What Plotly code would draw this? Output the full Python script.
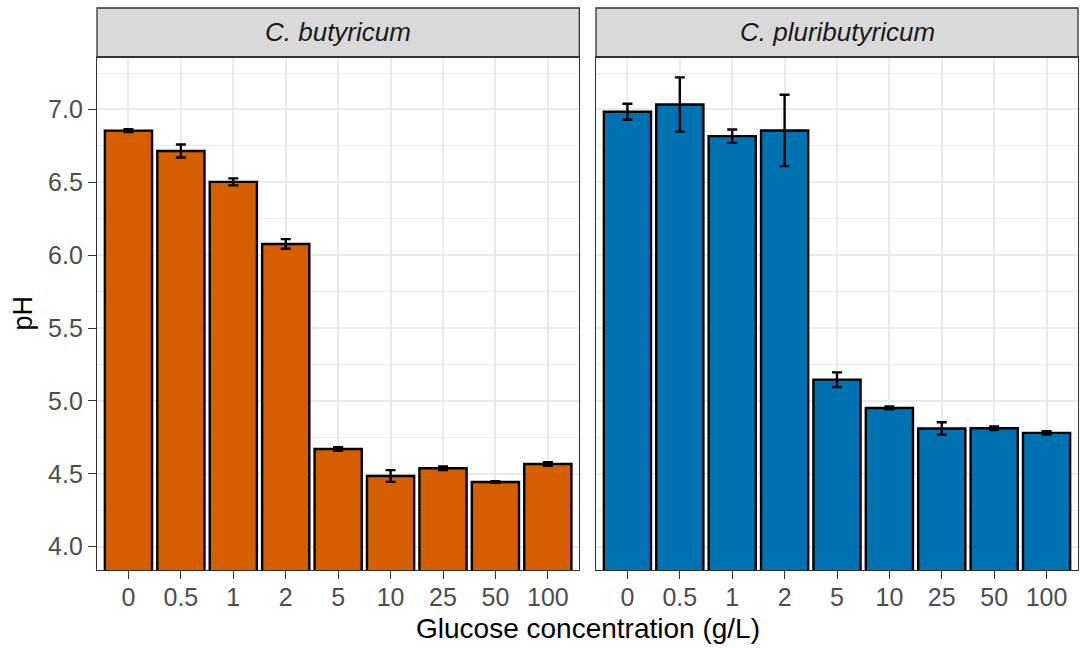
import plotly.graph_objects as go

# Glucose concentration levels (g/L)
glucose = ["0", "0.5", "1", "2", "5", "10", "25", "50", "100"]

# Final pH, mean and standard error, per strain
ph_butyricum = [6.855, 6.715, 6.503, 6.077, 4.670, 4.485, 4.538, 4.444, 4.567]
se_butyricum = [0.010, 0.045, 0.024, 0.033, 0.012, 0.040, 0.012, 0.006, 0.012]

ph_pluributyricum = [6.984, 7.034, 6.817, 6.856, 5.146, 4.952, 4.811, 4.813, 4.781]
se_pluributyricum = [0.055, 0.186, 0.046, 0.245, 0.050, 0.010, 0.043, 0.012, 0.012]

strains = ["C. butyricum", "C. pluributyricum"]
colors = ["#D55E00", "#0072B2"]

FONT = "Liberation Sans, Arial, Helvetica, sans-serif"
GRID = "#EBEBEB"
FRAME = "#333333"

W, H = 1080, 648
ML, MR, MT, MB = 97, 2, 57, 78
plot_w = W - ML - MR
plot_h = H - MT - MB
gap = (596 - 579.3) / plot_w
left_end = (579.3 - ML) / plot_w

fig = go.Figure()

series = [(ph_butyricum, se_butyricum), (ph_pluributyricum, se_pluributyricum)]
for i, ((vals, errs), col) in enumerate(zip(series, colors)):
    fig.add_trace(go.Bar(
        x=glucose, y=vals,
        width=0.9,
        marker=dict(color=col, line=dict(color="black", width=2.4)),
        error_y=dict(type="data", array=errs, visible=True,
                     color="black", thickness=2.4, width=5),
        xaxis="x" if i == 0 else "x2",
        yaxis="y" if i == 0 else "y2",
        showlegend=False,
    ))

yrange = [3.84, 7.36]
yticks = [4.0, 4.5, 5.0, 5.5, 6.0, 6.5, 7.0]

common_x = dict(
    type="category", categoryorder="array", categoryarray=glucose,
    range=[-0.6, 8.6],
    showgrid=True, gridcolor=GRID, gridwidth=2,
    ticks="outside", ticklen=8, tickwidth=1.2, tickcolor=FRAME,
    ticklabelstandoff=-3,
    tickfont=dict(family=FONT, size=25, color="#4D4D4D"),
    showline=True, mirror=True, linecolor=FRAME, linewidth=1.3,
    zeroline=False, fixedrange=True,
)
common_y = dict(
    range=yrange, tickvals=yticks,
    ticktext=[f"{v:.1f}" for v in yticks],
    showgrid=True, gridcolor=GRID, gridwidth=2,
    minor=dict(tickvals=[3.75 + 0.5 * k for k in range(8)],
               showgrid=True, gridcolor=GRID, gridwidth=1, ticks=""),
    showline=True, mirror=True, linecolor=FRAME, linewidth=1.3,
    zeroline=False, fixedrange=True,
)

fig.update_layout(
    width=W, height=H,
    margin=dict(l=ML, r=MR, t=MT, b=MB),
    paper_bgcolor="white", plot_bgcolor="white",
    bargap=0.1,
    xaxis=dict(domain=[0, left_end], anchor="y", **common_x),
    xaxis2=dict(domain=[left_end + gap, 1], anchor="y2", **common_x),
    yaxis=dict(domain=[0, 1], anchor="x",
               ticks="outside", ticklen=8, tickwidth=1.2, tickcolor=FRAME,
               tickfont=dict(family=FONT, size=25, color="#4D4D4D"),
               **common_y),
    yaxis2=dict(domain=[0, 1], anchor="x2", showticklabels=False, ticks="",
                **common_y),
    font=dict(family=FONT),
)

# Facet strips
strip_top = 1 + (MT - 8) / plot_h
for xref, yref, name in [("x domain", "y domain", strains[0]),
                         ("x2 domain", "y2 domain", strains[1])]:
    fig.add_shape(type="rect", xref=xref, yref=yref,
                  x0=0, x1=1, y0=1, y1=strip_top,
                  fillcolor="#D9D9D9", line=dict(color=FRAME, width=1.3),
                  layer="above")
    fig.add_shape(type="line", xref=xref, yref=yref,
                  x0=0, x1=1, y0=1, y1=1,
                  line=dict(color=FRAME, width=2.2), layer="above")
    fig.add_annotation(xref=xref, yref=yref, x=0.5, y=(1 + strip_top) / 2,
                       text=f"<i>{name}</i>", showarrow=False,
                       xanchor="center", yanchor="middle",
                       font=dict(family=FONT, size=26, color="#1A1A1A"))

# Axis titles
fig.add_annotation(xref="paper", yref="paper", x=0.5, y=-(628 - 570) / plot_h,
                   text="Glucose concentration (g/L)", showarrow=False,
                   xanchor="center", yanchor="middle",
                   font=dict(family=FONT, size=28, color="black"))
fig.add_annotation(xref="paper", yref="paper", x=(22 - ML) / plot_w, y=0.5,
                   text="pH", showarrow=False, textangle=-90,
                   xanchor="center", yanchor="middle",
                   font=dict(family=FONT, size=27, color="black"))

fig.write_html("out.html")
